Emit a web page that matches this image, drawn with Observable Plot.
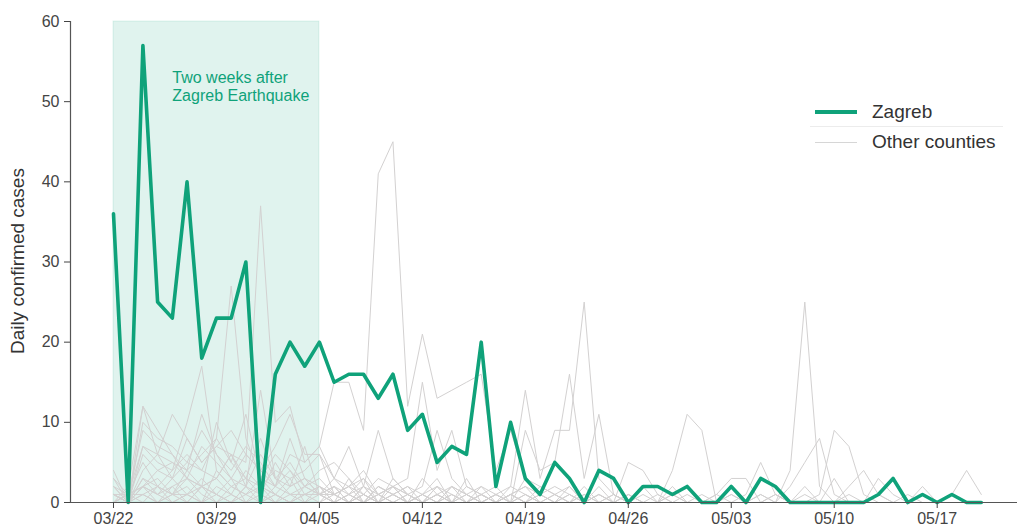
<!DOCTYPE html>
<html>
<head>
<meta charset="utf-8">
<script src="https://cdn.jsdelivr.net/npm/d3@7"></script>
<script src="https://cdn.jsdelivr.net/npm/@observablehq/plot@0.6"></script>
<style>
  html, body { margin: 0; padding: 0; background: #fff; }
  #wrap { position: relative; width: 1017px; height: 529px; font-family: "Liberation Sans", Arial, sans-serif; }
  .lg-row { position: absolute; left: 815px; height: 24px; display: flex; align-items: center; font-size: 19px; color: #333; }
  .lg-sw { width: 42px; margin-right: 15px; }
  .lg-sep { position: absolute; left: 810px; width: 193px; top: 126px; border-top: 1px solid #ececec; }
  .ylab { position: absolute; left: 18px; top: 261px; transform: translate(-50%, -50%) rotate(-90deg); white-space: nowrap; font-size: 19px; color: #333; }
</style>
</head>
<body>
<div id="wrap"></div>
<script>
// ---- data ----
const firstDay = "2020-03-22";
const lastDay = "2020-05-20";
const quakeWindow = { start: "2020-03-22", end: "2020-04-05", label: "Two weeks after\nZagreb Earthquake" };
const annotationDay = "2020-03-26";
const annotationValue = 54;
const xTicks = ["2020-03-22", "2020-03-29", "2020-04-05", "2020-04-12", "2020-04-19", "2020-04-26", "2020-05-03", "2020-05-10", "2020-05-17"];
const yTicks = [0, 10, 20, 30, 40, 50, 60];
const yLabel = "Daily confirmed cases";

const zagreb = [
  36, 0, 57, 25, 23, 40, 18, 23, 23, 30,
  0, 16, 20, 17, 20, 15, 16, 16, 13, 16,
  9, 11, 5, 7, 6, 20, 2, 10, 3, 1,
  5, 3, 0, 4, 3, 0, 2, 2, 1, 2,
  0, 0, 2, 0, 3, 2, 0, 0, 0, 0,
  0, 0, 1, 3, 0, 1, 0, 1, 0, 0
];

const county01 = [2,0,6,4,5,3,7,5,3,6, 4,2,6,5,7,15,15,9,41,45, 12,21,13,14,15,16,4,9,3,2, 1,2,0,1,0,1,0,0,1,0, 0,0,1,0,0,0,0,0,0,0, 0,0,0,0,0,0,0,0,0,0];
const county02 = [1,0,3,2,1,4,2,3,6,5, 37,10,12,5,7,3,2,4,1,2, 0,1,3,0,2,1,0,1,0,0, 1,0,0,2,0,0,1,0,0,0, 0,1,0,0,0,0,0,0,0,0, 0,0,0,0,0,0,0,0,0,0];
const county03 = [0,0,2,1,3,5,4,8,27,8, 3,2,4,1,2,0,1,0,2,1, 0,0,1,0,0,1,0,0,0,1, 0,0,0,0,0,0,0,0,0,0, 0,0,0,0,0,0,0,0,0,0, 0,0,0,0,0,0,0,0,0,0];
const county04 = [3,1,5,2,4,10,17,4,2,3, 1,5,2,3,1,2,0,1,3,2, 1,0,2,1,0,0,1,0,1,0, 0,0,1,0,0,0,0,0,0,0, 0,0,0,0,0,0,0,0,0,0, 0,0,0,0,0,0,0,0,0,0];
const county05 = [4,0,12,6,5,4,11,6,3,2, 14,3,1,2,3,1,2,0,1,2, 0,1,0,2,1,0,0,1,0,0, 0,1,0,0,0,0,0,0,0,0, 0,0,0,0,0,0,0,0,0,0, 0,0,0,0,0,0,0,0,0,0];
const county06 = [1,1,9,7,6,3,2,10,5,11, 3,6,4,2,1,3,1,2,0,1, 2,1,0,0,1,0,0,0,1,0, 0,0,0,0,0,0,0,0,0,0, 0,0,0,0,0,0,0,0,0,0, 0,0,0,0,0,0,0,0,0,0];
const county07 = [1,0,2,3,1,2,0,4,2,1, 3,1,0,2,1,0,3,1,0,2, 1,0,0,2,1,0,1,2,14,3, 9,9,25,3,1,0,0,1,0,0, 0,0,0,0,0,0,0,0,0,0, 0,0,0,0,0,0,0,0,0,0];
const county08 = [0,1,0,2,1,3,2,1,0,2, 1,0,2,3,1,2,1,0,2,1, 0,3,1,2,0,1,2,0,9,4, 5,16,3,11,1,0,0,0,0,0, 0,0,0,0,0,0,0,0,0,0, 0,0,0,0,0,0,0,0,0,0];
const county09 = [1,0,3,1,2,0,2,1,3,0, 2,1,0,1,2,0,1,3,0,1, 2,0,1,0,0,1,0,2,1,0, 0,1,0,0,1,0,0,0,4,11, 9,0,0,0,0,0,0,0,0,0, 0,0,0,0,0,0,0,0,0,0];
const county10 = [0,1,2,0,1,1,0,2,1,0, 1,0,1,0,0,2,0,1,0,0, 1,0,0,1,0,0,0,1,0,0, 0,0,0,0,0,0,0,0,0,0, 0,0,0,0,1,0,4,25,2,0, 0,0,0,0,0,0,0,0,0,0];
const county11 = [2,0,10,8,7,5,9,6,4,7, 5,2,8,3,2,1,0,0,1,0, 0,0,1,0,0,0,0,0,0,1, 0,0,0,0,0,0,0,0,0,0, 0,0,0,0,0,0,2,5,8,1, 0,0,0,0,0,0,0,0,0,0];
const county12 = [0,0,1,0,1,0,2,0,1,0, 0,1,0,0,1,0,0,1,0,0, 0,0,0,0,0,0,0,0,0,0, 0,0,0,0,0,0,0,0,0,0, 0,0,0,0,0,0,0,0,1,9, 7,1,0,0,0,0,0,0,0,0];
const county13 = [1,0,1,2,0,1,0,1,0,2, 0,1,0,0,0,1,0,0,0,0, 0,0,0,0,0,0,0,0,0,0, 0,0,0,0,0,0,0,0,0,0, 0,0,0,0,0,0,0,0,0,0, 0,0,0,0,0,0,0,1,4,1];
const county14 = [0,1,7,5,4,6,4,3,6,2, 6,3,2,7,1,1,2,1,0,3, 1,0,2,0,1,0,0,1,0,0, 1,0,0,1,0,5,4,1,0,0, 0,0,0,0,0,0,0,0,0,0, 0,0,0,0,0,0,0,0,0,0];
const county15 = [2,1,1,0,2,3,1,0,2,1, 0,2,1,1,0,0,1,0,1,0, 0,1,0,0,0,1,0,0,0,0, 0,0,0,0,0,0,0,0,0,1, 0,0,0,1,5,1,0,0,0,0, 2,4,1,0,0,0,0,0,0,0];
const county16 = [1,0,2,1,0,1,3,1,0,1, 2,0,0,1,1,0,0,2,0,1, 0,0,1,0,0,0,1,0,0,0, 0,0,0,0,1,0,0,0,0,0, 0,1,3,3,0,1,0,0,0,0, 0,0,3,1,0,0,0,0,0,0];
const county17 = [3,0,7,6,11,8,5,7,9,6, 4,7,11,6,6,1,2,3,1,2, 3,15,4,9,2,1,0,1,2,0, 0,0,1,0,0,0,0,0,0,0, 0,0,0,0,0,0,0,0,0,0, 0,0,0,0,0,0,0,0,0,0];
const county18 = [0,2,12,9,6,4,6,8,5,3, 2,4,3,4,6,3,7,2,9,3, 1,2,9,3,1,2,0,1,2,1, 2,1,0,0,0,1,0,0,0,0, 0,0,0,0,0,0,0,0,0,0, 0,0,0,0,0,0,0,0,0,0];
const county19 = [0,1,2,4,3,1,2,3,1,4, 2,1,3,0,2,1,0,2,1,0, 1,0,0,1,0,2,1,0,3,1, 0,2,0,1,0,0,2,0,1,0, 0,0,1,0,0,1,0,1,0,0, 1,0,0,0,1,0,0,0,0,0];
const county20 = [1,0,4,6,3,8,5,7,6,3, 8,3,5,2,4,5,3,0,2,1, 0,1,2,0,3,0,1,0,0,2, 1,0,2,0,0,1,0,0,2,0, 1,0,0,0,1,0,0,2,0,3, 0,0,1,0,0,2,0,0,0,0];

const otherCounties = [county01, county02, county03, county04, county05, county06, county07, county08, county09, county10,
  county11, county12, county13, county14, county15, county16, county17, county18, county19, county20];

// ---- build tables ----
const parse = d3.utcParse("%Y-%m-%d");
const days = d3.utcDay.range(parse(firstDay), d3.utcDay.offset(parse(lastDay), 1));
const zagrebRows = days.map((date, i) => ({ date, value: zagreb[i] }));
const otherRows = otherCounties.flatMap((s, k) => days.map((date, i) => ({ date, value: s[i], county: k })));

// ---- layout ----
const green = "#0fa27a";
const DAY = 864e5;
const t0 = +parse(firstDay);
const xDomain = [new Date(t0 - 2.923 * DAY), new Date(t0 + 61.46 * DAY)];

const chart = Plot.plot({
  width: 1017,
  height: 529,
  marginLeft: 70,
  marginRight: 0,
  marginTop: 21,
  marginBottom: 27,
  x: { type: "utc", domain: xDomain },
  y: { domain: [0, 60] },
  style: { fontFamily: "'Liberation Sans', Arial, sans-serif", fontSize: "16px", color: "#333", background: "white" },
  marks: [
    Plot.rect([quakeWindow], {
      x1: d => parse(d.start), x2: d => parse(d.end), y1: 0, y2: 60,
      fill: green, fillOpacity: 0.13, stroke: green, strokeOpacity: 0.12, strokeWidth: 1
    }),
    Plot.line(otherRows, { x: "date", y: "value", z: "county", stroke: "#d3d1d1", strokeWidth: 1 }),
    Plot.line(zagrebRows, { x: "date", y: "value", stroke: green, strokeWidth: 3.6, strokeLinejoin: "round" }),
    Plot.text([quakeWindow], {
      x: () => parse(annotationDay), y: () => annotationValue, text: "label",
      textAnchor: "start", lineAnchor: "top", lineHeight: 1.15, fill: green, fontSize: 16
    }),
    Plot.ruleY([0], { stroke: "#555", strokeWidth: 1.2 }),
    Plot.ruleX([xDomain[0]], { y1: 0, y2: 60, stroke: "#555", strokeWidth: 1.2 }),
    Plot.axisX({ ticks: xTicks.map(parse), tickFormat: d3.utcFormat("%m/%d"), tickSize: 6, tickPadding: 4, color: "#444", fontSize: 16, label: null }),
    Plot.axisY({ ticks: yTicks, tickSize: 6, tickPadding: 5, color: "#444", fontSize: 16, label: null })
  ]
});

const wrap = document.getElementById("wrap");
wrap.appendChild(chart);

// y-axis title
const yl = document.createElement("div");
yl.className = "ylab";
yl.textContent = yLabel;
wrap.appendChild(yl);

// legend overlay
const legendItems = [
  { label: "Zagreb", color: green, width: 4, top: 100 },
  { label: "Other counties", color: "#d6d6d6", width: 1.3, top: 130 }
];
for (const it of legendItems) {
  const row = document.createElement("div");
  row.className = "lg-row";
  row.style.top = it.top + "px";
  const sw = document.createElement("div");
  sw.className = "lg-sw";
  sw.style.borderTop = it.width + "px solid " + it.color;
  const tx = document.createElement("span");
  tx.textContent = it.label;
  row.appendChild(sw);
  row.appendChild(tx);
  wrap.appendChild(row);
}
const sep = document.createElement("div");
sep.className = "lg-sep";
wrap.appendChild(sep);
</script>
</body>
</html>
